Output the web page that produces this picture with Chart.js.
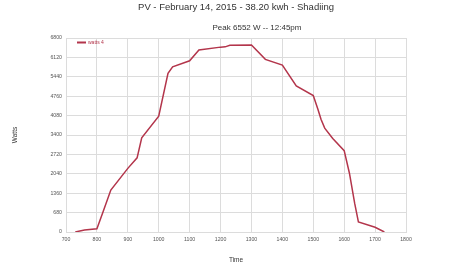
<!DOCTYPE html>
<html>
<head>
<meta charset="utf-8">
<script src="https://cdn.jsdelivr.net/npm/chart.js@4/dist/chart.umd.min.js"></script>
<style>
html,body{margin:0;padding:0;background:#fff;}
canvas{display:block;}
</style>
</head>
<body>
<canvas id="c" width="472" height="270"></canvas>
<script>
const chartTitle = "PV - February 14, 2015 - 38.20 kwh - Shadiing";
const chartSubtitle = "Peak 6552 W -- 12:45pm";
const seriesLabel = "watts 4";
const times = [730, 760, 800, 820, 845, 900, 930, 945, 1000, 1030, 1045, 1100, 1130, 1200, 1215, 1230, 1300, 1345, 1400, 1445, 1500, 1515, 1525, 1537, 1563, 1600, 1617, 1634, 1646, 1700, 1730];
const watts = [0, 70, 115, 710, 1470, 2230, 2600, 3300, 4060, 5560, 5790, 6000, 6380, 6480, 6490, 6545, 6552, 6050, 5850, 5120, 4780, 4300, 3950, 3640, 3280, 2850, 2060, 1000, 350, 165, 0];
const xTitle = "Time";
const yTitle = "Watts";

const lineColor = '#b3354b';
const gridColor = '#dcdcdc';
const FONT = "'Liberation Sans', Arial, sans-serif";

const textPlugin = {
  id: 'texts',
  afterDraw(chart) {
    const ctx = chart.ctx;
    const a = chart.chartArea;
    ctx.save();
    ctx.textBaseline = 'middle';
    ctx.textAlign = 'center';
    ctx.fillStyle = '#333';
    ctx.font = "9.5px " + FONT;
    ctx.fillText(chartTitle, chart.width / 2, 7);
    ctx.font = "8px " + FONT;
    ctx.fillText(chartSubtitle, (a.left + a.right) / 2 + 21, 28);
    // legend
    ctx.strokeStyle = lineColor;
    ctx.lineWidth = 2;
    ctx.beginPath();
    ctx.moveTo(a.left + 11, a.top + 4.5);
    ctx.lineTo(a.left + 20, a.top + 4.5);
    ctx.stroke();
    ctx.fillStyle = lineColor;
    ctx.textAlign = 'left';
    ctx.font = "5px " + FONT;
    ctx.fillText(chart.data.datasets[0].label, a.left + 22, a.top + 4.5);
    ctx.restore();
  }
};

new Chart(document.getElementById('c'), {
  type: 'line',
  data: {
    datasets: [{
      label: seriesLabel,
      data: times.map((t, i) => ({x: t, y: watts[i]})),
      borderColor: lineColor,
      backgroundColor: lineColor,
      borderWidth: 1.5,
      pointRadius: 0,
      tension: 0,
      fill: false
    }]
  },
  options: {
    responsive: false,
    devicePixelRatio: 1,
    animation: false,
    layout: {padding: {left: 0, right: 66, top: 38, bottom: 0}},
    plugins: {
      legend: {display: false},
      title: {display: false},
      tooltip: {enabled: false}
    },
    scales: {
      x: {
        type: 'linear',
        min: 700, max: 1800,
        afterFit: s => { s.height = 38; },
        ticks: {stepSize: 100, padding: 4, color: '#555', font: {family: FONT, size: 5.2}, maxRotation: 0, autoSkip: false, callback: v => String(v)},
        grid: {color: gridColor, drawTicks: false, lineWidth: 1},
        border: {color: gridColor},
        title: {display: true, text: xTitle, color: '#333', font: {family: FONT, size: 6.5}, padding: {top: 0, bottom: 6}}
      },
      y: {
        min: 0, max: 6800,
        afterFit: s => { s.width = 66; },
        ticks: {stepSize: 680, padding: 4, color: '#555', font: {family: FONT, size: 5.2}, callback: v => String(v)},
        grid: {color: gridColor, drawTicks: false, lineWidth: 1},
        border: {color: gridColor},
        title: {display: true, text: yTitle, color: '#333', font: {family: FONT, size: 6.5}, padding: {top: 11, bottom: 0}}
      }
    }
  },
  plugins: [textPlugin]
});
</script>
</body>
</html>
